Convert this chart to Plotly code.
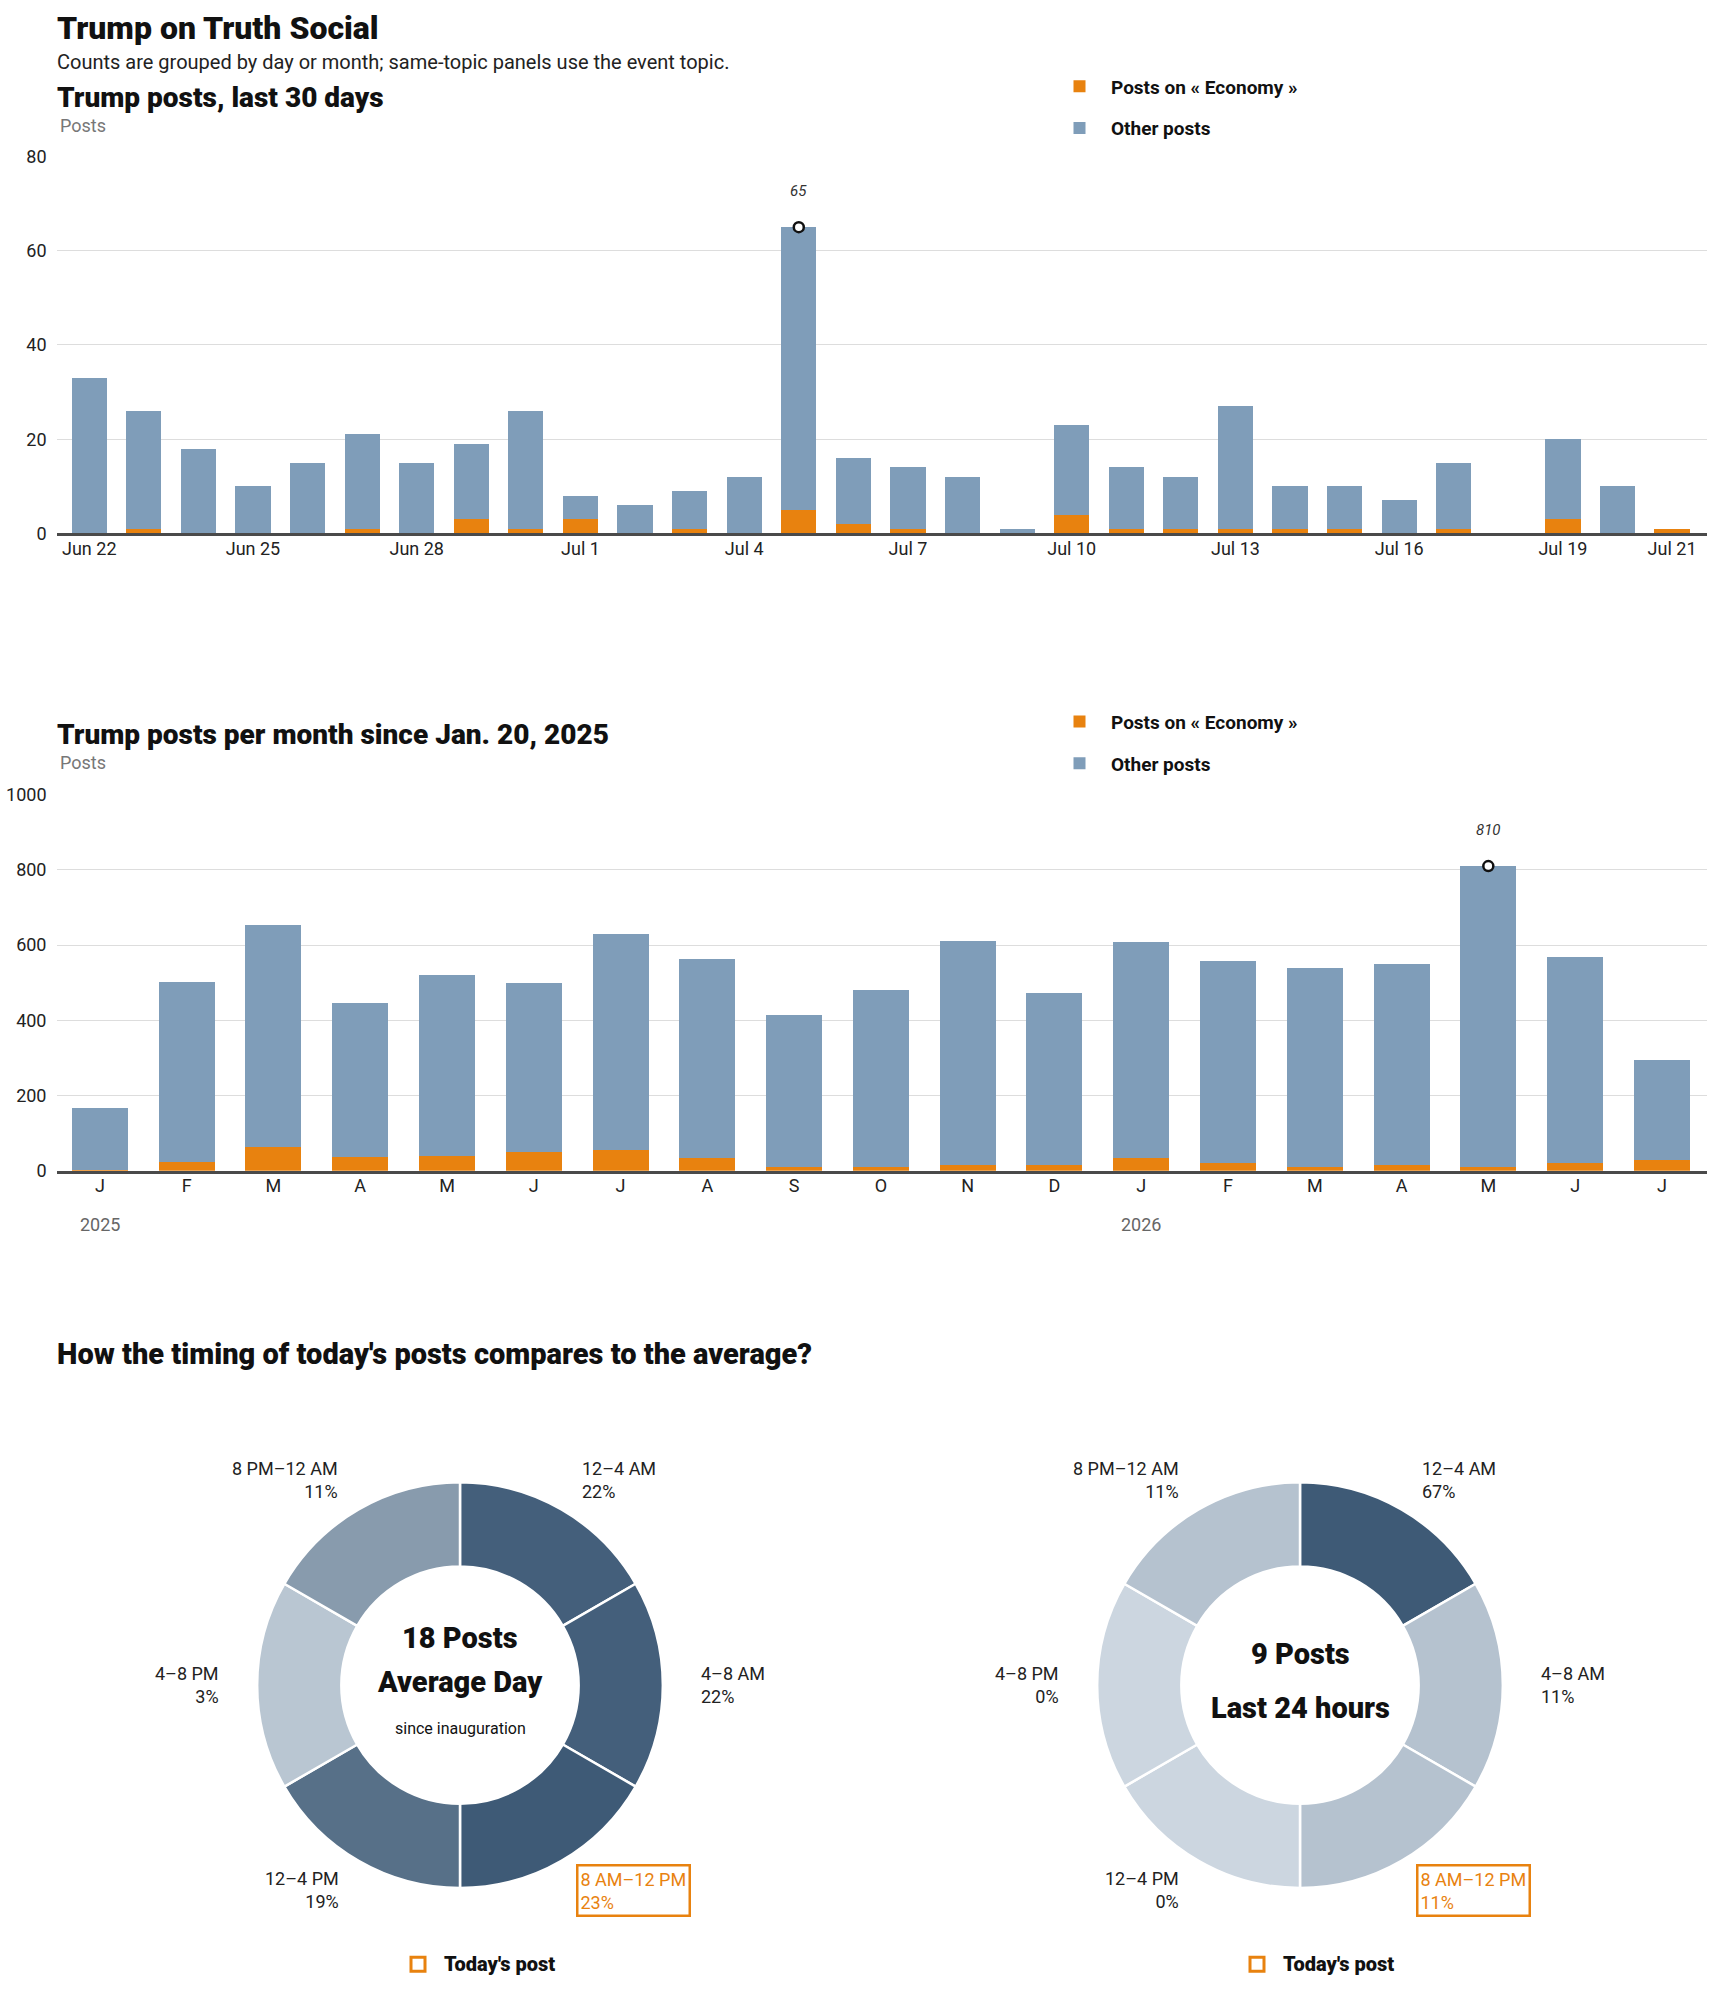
import math
import plotly.graph_objects as go
from plotly.colors import find_intermediate_color

W, H = 1710, 1993
FONT = "Roboto, Arial, sans-serif"

# ---- data: daily posts, last 30 days
day_labels = ["Jun 22", "Jun 23", "Jun 24", "Jun 25", "Jun 26", "Jun 27", "Jun 28", "Jun 29",
              "Jun 30", "Jul 1", "Jul 2", "Jul 3", "Jul 4", "Jul 5", "Jul 6", "Jul 7", "Jul 8",
              "Jul 9", "Jul 10", "Jul 11", "Jul 12", "Jul 13", "Jul 14", "Jul 15", "Jul 16",
              "Jul 17", "Jul 18", "Jul 19", "Jul 20", "Jul 21"]
day_total = [33, 26, 18, 10, 15, 21, 15, 19, 26, 8, 6, 9, 12, 65, 16, 14, 12, 1, 23, 14,
             12, 27, 10, 10, 7, 15, 0, 20, 10, 1]
day_economy = [0, 1, 0, 0, 0, 1, 0, 3, 1, 3, 0, 1, 0, 5, 2, 1, 0, 0, 4, 1,
               1, 1, 1, 1, 0, 1, 0, 3, 0, 1]
day_ticks = ["Jun 22", "Jun 25", "Jun 28", "Jul 1", "Jul 4", "Jul 7", "Jul 10",
             "Jul 13", "Jul 16", "Jul 19", "Jul 21"]

# ---- data: monthly posts since inauguration
month_keys = ["2025-01", "2025-02", "2025-03", "2025-04", "2025-05", "2025-06", "2025-07",
              "2025-08", "2025-09", "2025-10", "2025-11", "2025-12", "2026-01", "2026-02",
              "2026-03", "2026-04", "2026-05", "2026-06", "2026-07"]
month_ticks = ["J", "F", "M", "A", "M", "J", "J", "A", "S", "O", "N", "D",
               "J", "F", "M", "A", "M", "J", "J"]
month_total = [167, 503, 653, 447, 520, 500, 630, 563, 413, 480, 612, 473,
               607, 557, 540, 550, 810, 567, 293]
month_economy = [3, 22, 62, 37, 40, 50, 54, 33, 10, 10, 15, 15,
                 33, 20, 10, 15, 10, 20, 28]
year_marks = {"2025-01": "2025", "2026-01": "2026"}

# ---- data: timing of posts
slots = ["12–4 AM", "4–8 AM", "8 AM–12 PM", "12–4 PM", "4–8 PM", "8 PM–12 AM"]
avg_share = [22, 22, 23, 19, 3, 11]
today_share = [67, 11, 11, 0, 0, 11]
avg_posts = 18
today_posts = 9
current_slot = "8 AM–12 PM"

ORANGE = "#e8820f"
BLUE = "#7f9db9"
LIGHT = (204, 214, 224)
DARK = (62, 90, 118)
HEAVY = dict(color="#111", weight=900)


def px(x):
    return x / W


def py(y):
    return 1 - y / H


day_other = [t - e for t, e in zip(day_total, day_economy)]
month_other = [t - e for t, e in zip(month_total, month_economy)]

fig = go.Figure()

# 1. daily bars
fig.add_trace(go.Bar(x=day_labels, y=day_economy, name="Posts on « Economy »",
                     marker=dict(color=ORANGE, line_width=0), xaxis="x", yaxis="y",
                     legend="legend", legendgroup="e"))
fig.add_trace(go.Bar(x=day_labels, y=day_other, name="Other posts",
                     marker=dict(color=BLUE, line_width=0), xaxis="x", yaxis="y",
                     legend="legend", legendgroup="o"))

# 2. monthly bars
fig.add_trace(go.Bar(x=month_keys, y=month_economy, name="Posts on « Economy »",
                     marker=dict(color=ORANGE, line_width=0), xaxis="x2", yaxis="y2",
                     legend="legend2", legendgroup="e2"))
fig.add_trace(go.Bar(x=month_keys, y=month_other, name="Other posts",
                     marker=dict(color=BLUE, line_width=0), xaxis="x2", yaxis="y2",
                     legend="legend2", legendgroup="o2"))

# peak markers + labels
annotations = []
for xs, ys, xa, ya in [(day_labels, day_total, "x", "y"), (month_keys, month_total, "x2", "y2")]:
    i = ys.index(max(ys))
    fig.add_trace(go.Scatter(x=[xs[i]], y=[ys[i]], mode="markers", xaxis=xa, yaxis=ya,
                             marker=dict(symbol="circle", size=10, color="white",
                                         line=dict(color="#111", width=2.5)),
                             showlegend=False, hoverinfo="skip", cliponaxis=False))
    annotations.append(dict(x=xs[i], y=ys[i], xref=xa, yref=ya, text=f"<i>{ys[i]}</i>",
                            showarrow=False, yshift=36, yanchor="middle",
                            font=dict(size=15, color="#333")))


# 3. donuts
def shade(share):
    top = max(share)
    cols = []
    for s in share:
        c = find_intermediate_color(LIGHT, DARK, s / top)
        cols.append("rgb({:.0f},{:.0f},{:.0f})".format(*c))
    return cols


donuts = [
    (avg_share, 460, ["%d Posts" % avg_posts, "Average Day", "since inauguration"],
     [-48, -3, 44], [29, 29, 16], 418),
    (today_share, 1300, ["%d Posts" % today_posts, "Last 24 hours"],
     [-31, 23], [29, 29], 1257),
]
CY, R = 1692, 205
for share, cx, centre, offs, sizes, lx in donuts:
    fig.add_trace(go.Pie(values=[1] * len(slots), labels=slots, hole=0.585, sort=False,
                         direction="clockwise", rotation=0, textinfo="none",
                         hoverinfo="label", showlegend=False,
                         marker=dict(colors=shade(share), line=dict(color="white", width=2.5)),
                         domain=dict(x=[px(cx - R), px(cx + R)], y=[py(CY + R), py(CY - R)])))
    for txt, off, sz in zip(centre, offs, sizes):
        f = dict(HEAVY, size=sz) if sz > 20 else dict(size=sz, color="#111")
        annotations.append(dict(x=px(cx), y=py(CY + off), xref="paper", yref="paper",
                                text=txt, showarrow=False, xanchor="center", yanchor="middle",
                                font=f))
    for k, (slot, s) in enumerate(zip(slots, share)):
        a = math.radians((k + 0.5) * 360 / len(slots))
        dx, dy = 239 * math.sin(a), 237 * math.cos(a)
        side = "left" if dx > 1 else "right"
        ann = dict(x=px(cx), y=py(CY), xref="paper", yref="paper", xshift=dx, yshift=dy,
                   text=f"{slot}<br>{s}%", showarrow=False, xanchor=side, align=side,
                   yanchor="middle", font=dict(size=18, color="#222"))
        if slot == current_slot:
            ann.update(font=dict(size=18, color=ORANGE), bordercolor=ORANGE,
                       borderwidth=2.5, borderpad=2, xshift=dx - 4)
        annotations.append(ann)
    # "Today's post" key
    fig.add_shape(type="rect", xref="paper", yref="paper",
                  x0=px(lx - 7), x1=px(lx + 7), y0=py(1981), y1=py(1967),
                  line=dict(color=ORANGE, width=3), fillcolor="white")
    annotations.append(dict(x=px(lx + 24), y=py(1974), xref="paper", yref="paper",
                            text="Today's post", showarrow=False, xanchor="left",
                            yanchor="middle", font=dict(HEAVY, size=20)))

# texts
texts = [
    ("Trump on Truth Social", 17, dict(HEAVY, size=32)),
    ("Counts are grouped by day or month; same-topic panels use the event topic.", 52,
     dict(size=20, color="#222")),
    ("Trump posts, last 30 days", 87, dict(HEAVY, size=28)),
    ("Trump posts per month since Jan. 20, 2025", 731, dict(HEAVY, size=28)),
    ("How the timing of today's posts compares to the average?", 1357, dict(HEAVY, size=29)),
]
for txt, yc, f in texts:
    annotations.append(dict(x=px(55), y=py(yc), xref="paper", yref="paper", text=txt,
                            showarrow=False, xanchor="left", yanchor="middle", font=f))
for yc in [116, 759]:
    annotations.append(dict(x=px(58), y=py(yc), xref="paper", yref="paper", text="Posts",
                            showarrow=False, xanchor="left", yanchor="middle",
                            font=dict(size=18, color="#777")))
for key, yr in year_marks.items():
    annotations.append(dict(x=key, y=py(1226), xref="x2", yref="paper", text=yr,
                            showarrow=False, xanchor="center", yanchor="middle",
                            font=dict(size=18, color="#666")))

xdom = [px(56.5), px(1707)]
axis_x = dict(type="category", showgrid=False, showline=True, linecolor="#4a4a4a", linewidth=3,
              ticks="", ticklabelstandoff=-3, tickfont=dict(size=18, color="#222"),
              fixedrange=True)
axis_y = dict(showgrid=True, gridcolor="#dddddd", gridwidth=1, zeroline=False, showline=False,
              ticks="", ticklabelstandoff=9, tickfont=dict(size=18, color="#222"),
              fixedrange=True)
legend_style = dict(xanchor="left", yanchor="top", traceorder="grouped", tracegroupgap=14,
                    itemwidth=53, bgcolor="rgba(0,0,0,0)", itemclick=False,
                    font=dict(size=19, color="#111", weight="bold"))

fig.update_layout(
    width=W, height=H, margin=dict(l=0, r=0, t=0, b=0),
    paper_bgcolor="white", plot_bgcolor="white",
    font=dict(family=FONT, color="#222"),
    barmode="stack", bargap=0.355,
    xaxis=dict(axis_x, domain=xdom, anchor="y", range=[-0.6, 29.64], tickvals=day_ticks),
    yaxis=dict(axis_y, domain=[py(528), py(147)], anchor="x", range=[0, 80], dtick=20),
    xaxis2=dict(axis_x, domain=xdom, anchor="y2", range=[-0.5, 18.52],
                tickvals=month_keys, ticktext=month_ticks),
    yaxis2=dict(axis_y, domain=[py(1172), py(792)], anchor="x2", range=[0, 1000], dtick=200),
    legend=dict(legend_style, x=px(1048), y=py(57)),
    legend2=dict(legend_style, x=px(1048), y=py(699)),
    annotations=annotations,
)

fig.write_html("out.html", config={"displayModeBar": False},
               post_script="document.body.style.margin='0';")
